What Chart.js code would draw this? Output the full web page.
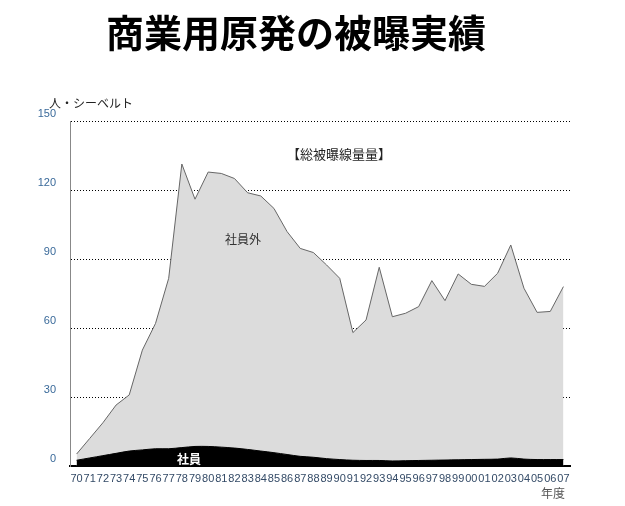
<!DOCTYPE html>
<html>
<head>
<meta charset="utf-8">
<script src="https://cdn.jsdelivr.net/npm/chart.js@4"></script>
<style>
  body { margin: 0; background: #fff; font-family: "Noto Sans CJK JP", sans-serif; }
  #wrap { position: relative; width: 625px; height: 506px; }
  #title { position: absolute; left: 0; width: 592px; top: 6px; text-align: center; font-size: 38px; font-weight: bold; color: #000; line-height: 50px; }
  .note { position: absolute; white-space: nowrap; color: #222; }
</style>
</head>
<body>
<div id="wrap">
  <div id="title">商業用原発の被曝実績</div>
  <canvas id="Courbes" width="625" height="506"></canvas>
  <div class="note" style="left:49px; top:94px; font-size:12px;">人・シーベルト</div>
  <div class="note" style="left:287px; top:144px; font-size:13px;">【総被曝線量量】</div>
  <div class="note" style="left:225px; top:230px; font-size:12px; color:#333;">社員外</div>
  <div class="note" style="left:177px; top:450px; font-size:12px; font-weight:bold; color:#fff;">社員</div>
  <div class="note" style="left:541px; top:484px; font-size:12px; color:#555;">年度</div>
</div>
<script>
const years = ["70","71","72","73","74","75","76","77","78","79","80","81","82","83","84","85","86","87","88","89",
  "90","91","92","93","94","95","96","97","98","99","00","01","02","03","04","05","06","07"];

// 総被曝線量 (社員 + 社員外)
const totalDose = [5.2, 12, 18.8, 26.5, 30.9, 50.4, 62, 81.6, 131.3, 116, 127.8, 127.2, 125, 118.8, 117.4, 112, 101.9, 94.6, 92.8, 87.4,
  81.6, 58, 63.5, 86.4, 64.9, 66.4, 69.3, 80.6, 71.9, 83.5, 79, 78.1, 83.8, 96.1, 77.3, 66.8, 67.2, 78];

// 社員
const employeeDose = [2.5, 3.5, 4.5, 5.5, 6.5, 7, 7.5, 7.5, 8, 8.5, 8.5, 8.2, 7.8, 7.2, 6.5, 5.8, 5, 4.2, 3.8, 3.2,
  2.8, 2.5, 2.4, 2.4, 2.2, 2.3, 2.4, 2.5, 2.6, 2.7, 2.8, 2.9, 3, 3.5, 3, 2.8, 2.8, 2.8];

const yTicks = [0, 30, 60, 90, 120, 150];

let ctx = document.getElementById("Courbes").getContext("2d");
let Courbes = new Chart(ctx, {
  type: "line",
  data: {
    labels: years,
    datasets: [
      {
        label: "社員",
        data: employeeDose,
        backgroundColor: "#000",
        borderColor: "#000",
        borderWidth: 1,
        pointRadius: 0,
        fill: "origin",
        tension: 0.3,
        order: 0,
      },
      {
        label: "社員外",
        data: totalDose,
        backgroundColor: "#dcdcdc",
        borderColor: "#666",
        borderWidth: 1,
        pointRadius: 0,
        fill: "origin",
        order: 1,
      },
    ],
  },
  options: {
    responsive: false,
    animation: false,
    layout: { padding: { left: 0, right: 55, top: 121, bottom: 8 } },
    plugins: {
      legend: { display: false },
      tooltip: { enabled: false },
    },
    scales: {
      x: {
        offset: true,
        grid: { display: false, drawTicks: false },
        border: { color: "#000", width: 2 },
        ticks: {
          autoSkip: false,
          maxRotation: 0,
          padding: 6,
          color: "#334a66",
          font: { family: "Liberation Sans", size: 11 },
        },
        afterFit: (scale) => { scale.height = 32; },
      },
      y: {
        min: 0,
        max: 150,
        afterBuildTicks: (scale) => { scale.ticks = yTicks.map((v) => ({ value: v })); },
        grid: {
          color: (c) => (c.tick.value === 0 ? "rgba(0,0,0,0)" : "#000"),
          drawTicks: false,
          lineWidth: 1,
        },
        border: { color: "#888", width: 1, dash: [1, 2] },
        ticks: {
          padding: 14,
          labelOffset: -7,
          color: "#3a6a9a",
          font: { family: "Liberation Sans", size: 11 },
        },
        afterFit: (scale) => { scale.width = 70; },
      },
    },
  },
});
</script>
</body>
</html>
